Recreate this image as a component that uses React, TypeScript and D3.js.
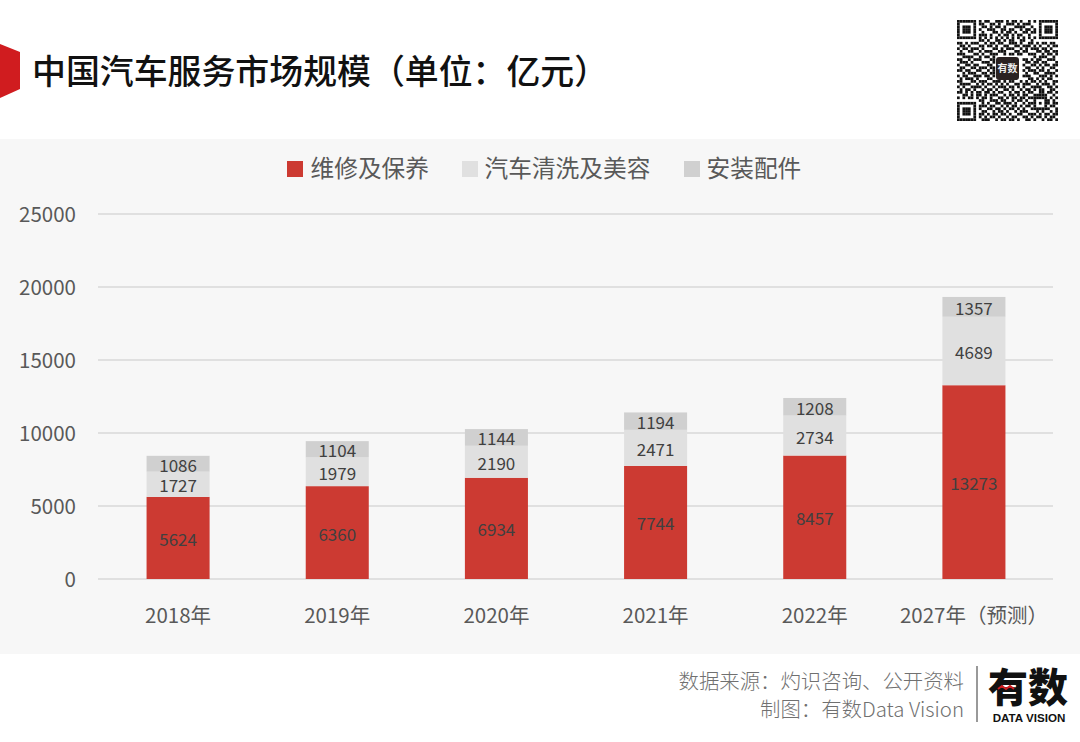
import * as d3 from 'd3';

const categories = ['2018年', '2019年', '2020年', '2021年', '2022年', '2027年（预测）'];
const repair = [5624, 6360, 6934, 7744, 8457, 13273];
const washing = [1727, 1979, 2190, 2471, 2734, 4689];
const parts = [1086, 1104, 1144, 1194, 1208, 1357];
const seriesNames = ['维修及保养', '汽车清洗及美容', '安装配件'];
const seriesColors = ['#cc3a32', '#e0e0e0', '#d0d0d0'];
const yTicks = [0, 5000, 10000, 15000, 20000, 25000];

// QR modules
const qrRows = [
  '1111111010110011101011010010101111111',
  '1000001011001101001110101110001000001',
  '1011101001101011010001111001001011101',
  '1011101010011100110110010110101011101',
  '1011101001000110101101001101101011101',
  '1000001011101001011010110010001000001',
  '1111111010101010101010101010101111111',
  '0000000011010011010110011001000000000',
  '1101011100101101100111010011010110110',
  '0110100011011010011001101110101001011',
  '1011011101000110101110010101110110100',
  '0100110010111001110001101100011011011',
  '1110001101001110010110110011100101101',
  '0011110010110100000000000000101110010',
  '1100101110001100000000001101011001110',
  '0111010001110100000000000110110110001',
  '1001101100011000000000001001101011011',
  '0110011011101100000000000110010100110',
  '1101100110010100000000001011101101001',
  '0010111001101100000000000100110011110',
  '1011001110110100000000001110001110101',
  '0101110100011000000000000011010101100',
  '1100011011100111010110010101101010011',
  '0111100101011010101001101110010111010',
  '1010011110100101110110101001111001101',
  '0101101001011010011010010110101100110',
  '1101010110110101100101101011001101101',
  '0011010110101110010110101100111110010',
  '1010110101101001101011011011111110101',
  '0000000011001110110010110100100011010',
  '1111111001010011011101001011101011011',
  '1000001011101100101011010110100010110',
  '1011101010011011010110101001111111001',
  '1011101001100101101001011100010100101',
  '1011101011010110110100110011101011011',
  '1000001010101101001011001101011010110',
  '1111111001110010110110100110100101101',
];

const width = 1080;
const height = 742;
const fontFamily = '"Noto Sans CJK SC", "Noto Sans", sans-serif';

const x = d3.scaleBand<string>()
  .domain(categories)
  .range([98.5, 1053.5])
  .paddingInner(0.604)
  .paddingOuter(0.302);

const y = d3.scaleLinear().domain([0, 25000]).range([579, 214]);

const stacked = d3.stack<number>()
  .keys(['0', '1', '2'])
  .value((i, key) => [repair, washing, parts][+key][i])(categories.map((_, i) => i));

const qrX = d3.scaleLinear().domain([0, 37]).range([957, 1058]);
const qrY = d3.scaleLinear().domain([0, 37]).range([20, 121]);

const legendItems = [
  { swatch: 287, label: 310.5 },
  { swatch: 462, label: 484.5 },
  { swatch: 684, label: 706.5 },
];

export default function App() {
  return (
    <svg
      width={width}
      height={height}
      viewBox={`0 0 ${width} ${height}`}
      style={{ position: 'absolute', left: 0, top: 0, background: '#fff', fontFamily }}
    >
      {/* Header */}
      <path d="M0,44L20,52L20,89L0,98Z" fill="#d01c1f" />
      <text x={32} y={83.5} fontSize={33.9} fontWeight={500} fill="#111">
        中国汽车服务市场规模（单位：亿元）
      </text>

      {/* QR code */}
      <g fill="#111">
        {qrRows.flatMap((row, r) =>
          row.split('').map((m, c) =>
            m === '1' ? (
              <rect
                key={`${r}-${c}`}
                x={qrX(c)}
                y={qrY(r)}
                width={qrX(1) - qrX(0)}
                height={qrY(1) - qrY(0)}
              />
            ) : null,
          ),
        )}
      </g>
      <rect x={996} y={57} width={23} height={23} rx={3} fill="#2a2222" />
      <text x={1007.5} y={72} fontSize={10} fontWeight={700} fill="#eee" textAnchor="middle">
        有数
      </text>

      {/* Panel */}
      <rect x={0} y={139} width={width} height={515} fill="#f7f7f7" />

      {/* Legend */}
      {seriesNames.map((name, i) => (
        <g key={name}>
          <rect x={legendItems[i].swatch} y={161} width={16} height={16} fill={seriesColors[i]} />
          <text x={legendItems[i].label} y={177} fontSize={23.7} fill="#595959">
            {name}
          </text>
        </g>
      ))}

      {/* Grid and y axis */}
      {yTicks.map((t) => (
        <g key={t}>
          <line x1={98} x2={1053} y1={y(t)} y2={y(t)} stroke="#e0e0e0" strokeWidth={2} />
          <text x={76} y={y(t) + 7.5} fontSize={20.5} fill="#595959" textAnchor="end">
            {t}
          </text>
        </g>
      ))}

      {/* Bars */}
      {stacked.map((layer, s) => (
        <g key={s}>
          {layer.map((d, i) => (
            <g key={categories[i]}>
              <rect
                x={x(categories[i])}
                y={y(d[1])}
                width={x.bandwidth()}
                height={y(d[0]) - y(d[1])}
                fill={seriesColors[s]}
              />
              <text
                x={x(categories[i])! + x.bandwidth() / 2}
                y={y((d[0] + d[1]) / 2) + 8}
                fontSize={17}
                fill="#404040"
                textAnchor="middle"
              >
                {d[1] - d[0]}
              </text>
            </g>
          ))}
        </g>
      ))}

      {/* Category labels */}
      {categories.map((c) => (
        <text
          key={c}
          x={x(c)! + x.bandwidth() / 2}
          y={623}
          fontSize={20.5}
          fill="#595959"
          textAnchor="middle"
        >
          {c}
        </text>
      ))}

      {/* Footer */}
      <text x={964} y={689} fontSize={20.4} fontWeight={300} fill="#707070" textAnchor="end">
        数据来源：灼识咨询、公开资料
      </text>
      <text x={964} y={717} fontSize={20.4} fontWeight={300} fill="#707070" textAnchor="end">
        制图：有数Data Vision
      </text>
      <line x1={977} x2={977} y1={666} y2={722} stroke="#555" strokeWidth={1.2} />
      <text x={1028} y={702} fontSize={40} fontWeight={900} fill="#111" textAnchor="middle">
        有数
      </text>
      <path d="M998,689l4,-3l4,3l4,-3l4,3" fill="none" stroke="#d01c1f" strokeWidth={2} />
      <text x={1029} y={721.5} fontSize={11.6} fontWeight={700} fill="#111" textAnchor="middle"
        fontFamily='"Liberation Sans", sans-serif'>
        DATA VISION
      </text>
    </svg>
  );
}
